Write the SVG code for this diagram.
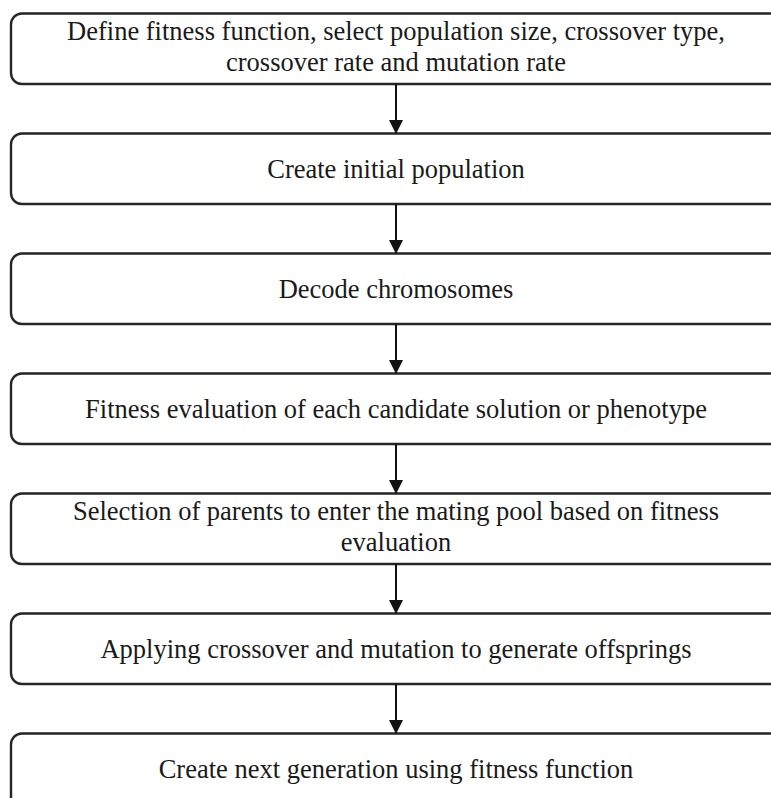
<svg xmlns="http://www.w3.org/2000/svg" width="771" height="798" viewBox="0 0 771 798">
  <style>
    .box { fill: #fff; stroke: #262626; stroke-width: 2.4; }
    .lbl { font-family: "Liberation Serif", "Times New Roman", serif; font-size: 26.5px; fill: #1a1a1a; text-anchor: middle; }
    .edge { stroke: #111; stroke-width: 2; fill: none; }
  </style>
  <defs>
    <marker id="arrow" markerWidth="14" markerHeight="16" refX="13" refY="7" orient="auto" markerUnits="userSpaceOnUse">
      <path d="M0,0 L14,7 L0,14 Z" fill="#111"/>
    </marker>
  </defs>
  <rect width="771" height="798" fill="#fff"/>

  <g id="n1">
    <rect class="box" x="11" y="13.5" width="774" height="70.5" rx="11"/>
    <text class="lbl" x="396" y="40">Define fitness function, select population size, crossover type,</text>
    <text class="lbl" x="396" y="71">crossover rate and mutation rate</text>
  </g>
  <g id="n2">
    <rect class="box" x="11" y="133.5" width="774" height="70.5" rx="11"/>
    <text class="lbl" x="396" y="178">Create initial population</text>
  </g>
  <g id="n3">
    <rect class="box" x="11" y="253.5" width="774" height="70.5" rx="11"/>
    <text class="lbl" x="396" y="298">Decode chromosomes</text>
  </g>
  <g id="n4">
    <rect class="box" x="11" y="373.5" width="774" height="70.5" rx="11"/>
    <text class="lbl" x="396" y="418">Fitness evaluation of each candidate solution or phenotype</text>
  </g>
  <g id="n5">
    <rect class="box" x="11" y="493.5" width="774" height="70.5" rx="11"/>
    <text class="lbl" x="396" y="520">Selection of parents to enter the mating pool based on fitness</text>
    <text class="lbl" x="396" y="551">evaluation</text>
  </g>
  <g id="n6">
    <rect class="box" x="11" y="613.5" width="774" height="70.5" rx="11"/>
    <text class="lbl" x="396" y="658">Applying crossover and mutation to generate offsprings</text>
  </g>
  <g id="n7">
    <rect class="box" x="11" y="733.5" width="774" height="80" rx="11"/>
    <text class="lbl" x="396" y="778">Create next generation using fitness function</text>
  </g>

  <g id="connectors">
    <line class="edge" x1="396" y1="84" x2="396" y2="133" marker-end="url(#arrow)"/>
    <line class="edge" x1="396" y1="204" x2="396" y2="253" marker-end="url(#arrow)"/>
    <line class="edge" x1="396" y1="324" x2="396" y2="373" marker-end="url(#arrow)"/>
    <line class="edge" x1="396" y1="444" x2="396" y2="493" marker-end="url(#arrow)"/>
    <line class="edge" x1="396" y1="564" x2="396" y2="613" marker-end="url(#arrow)"/>
    <line class="edge" x1="396" y1="684" x2="396" y2="733" marker-end="url(#arrow)"/>
  </g>
</svg>
